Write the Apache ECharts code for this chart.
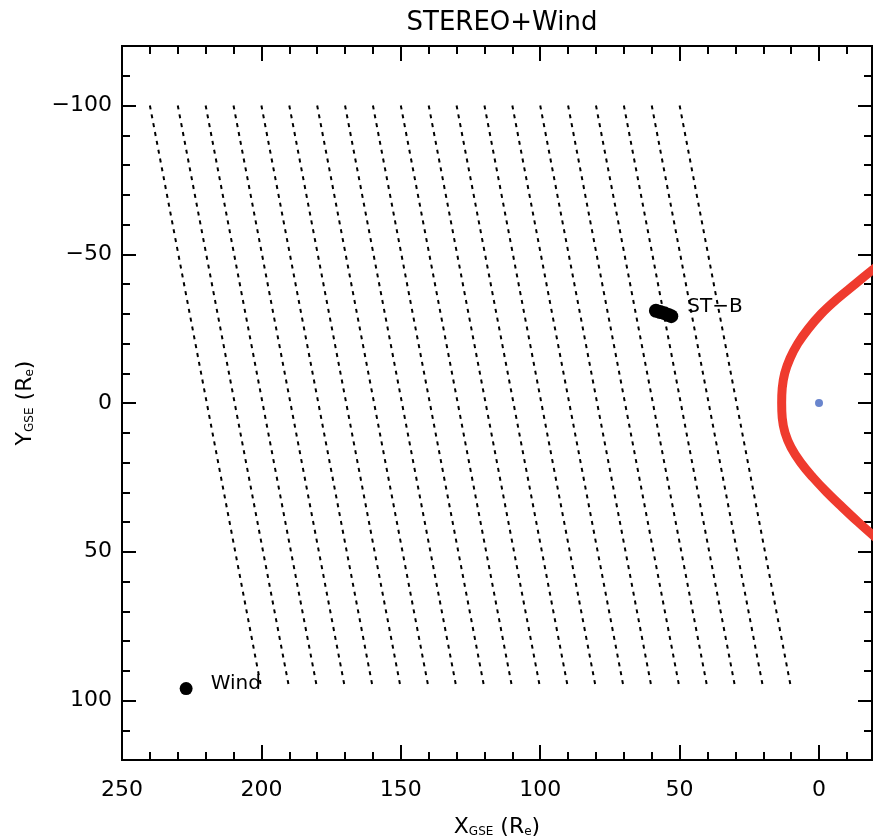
<!DOCTYPE html>
<html>
<head>
<meta charset="utf-8">
<script src="https://cdn.jsdelivr.net/npm/echarts@6/dist/echarts.min.js"></script>
<style>html,body{margin:0;padding:0;background:#fff}#c{width:873px;height:838px}</style>
</head>
<body>
<div id="c"></div>
<script>
// ---- data ----
const titleText = 'STEREO+Wind';
const xRange = [-19, 250];
const yRange = [-120, 120];
const xMajorTicks = [250, 200, 150, 100, 50, 0];
const xMinorTicks = [250, 240, 230, 220, 210, 200, 190, 180, 170, 160, 150, 140, 130, 120, 110, 100, 90, 80, 70, 60, 50, 40, 30, 20, 10, 0, -10];
const yMajorTicks = [-100, -50, 0, 50, 100];
const yMinorTicks = [-110, -100, -90, -80, -70, -60, -50, -40, -30, -20, -10, 0, 10, 20, 30, 40, 50, 60, 70, 80, 90, 100, 110];

// dashed field lines: start (top) and end (bottom) x for each line
const fieldTopX = [240, 230, 220, 210, 200, 190, 180, 170, 160, 150, 140, 130, 120, 110, 100, 90, 80, 70, 60, 50];
const fieldBottomX = [200, 190, 180, 170, 160, 150, 140, 130, 120, 110, 100, 90, 80, 70, 60, 50, 40, 30, 20, 10];
const fieldTopY = -100;
const fieldBottomY = 96;

// bow shock curve (red)
const shockY = [-50, -45, -40, -35, -30, -25, -20, -15, -10, -5, 0, 5, 10, 15, 20, 25, 30, 35, 40, 45, 50];
const shockX = [-26, -19.5, -13, -6.5, -0.8, 3.8, 7.6, 10.4, 12.3, 13.2, 13.4, 13.2, 12.2, 10, 6.6, 2.2, -2.8, -8.3, -14, -20, -26];

// spacecraft
const earthPos = [[0, 0]];
const stbX = [58.5, 57, 55.5, 54, 53];
const stbY = [-31, -30.6, -30.2, -29.6, -29.2];
const windPos = [[227, 96]];

// ---- chart ----
const FONT = 'DejaVu Sans';
const black = '#000';
function xAx(pos, ticks, len, labels) {
  return {
    type: 'value', position: pos, min: xRange[0], max: xRange[1], inverse: true,
    axisLine: { show: true, onZero: false, lineStyle: { color: black, width: 2 } },
    axisTick: { show: true, inside: true, length: len, customValues: ticks, lineStyle: { color: black, width: 2 } },
    axisLabel: { show: labels, customValues: xMajorTicks, color: black, fontSize: 22, fontFamily: FONT, margin: 19 },
    splitLine: { show: false }
  };
}
function yAx(pos, ticks, len, labels) {
  return {
    type: 'value', position: pos, min: yRange[0], max: yRange[1], inverse: true,
    axisLine: { show: true, onZero: false, lineStyle: { color: black, width: 2 } },
    axisTick: { show: true, inside: true, length: len, customValues: ticks, lineStyle: { color: black, width: 2 } },
    axisLabel: { show: labels, customValues: yMajorTicks, color: black, fontSize: 22, fontFamily: FONT, margin: 10,
      formatter: v => String(v).replace('-', '\u2212') },
    splitLine: { show: false }
  };
}
const xAxes = [xAx('bottom', xMajorTicks, 15, true), xAx('bottom', xMinorTicks, 8, false), xAx('top', xMajorTicks, 15, false), xAx('top', xMinorTicks, 8, false)];
const yAxes = [yAx('left', yMajorTicks, 14, true), yAx('left', yMinorTicks, 8, false), yAx('right', yMajorTicks, 14, false), yAx('right', yMinorTicks, 8, false)];

const nameStyle = { rich: {
  m: { fontSize: 22, fontFamily: FONT, color: black, lineHeight: 26, verticalAlign: 'bottom' },
  s: { fontSize: 12, fontFamily: FONT, color: black, verticalAlign: 'bottom', lineHeight: 20 } } };
xAxes[0].name = '{m|X}{s|GSE}{m| (R}{s|e}{m|)}';
xAxes[0].nameLocation = 'middle';
xAxes[0].nameGap = 52;
xAxes[0].nameTextStyle = nameStyle;
yAxes[0].name = '{m|Y}{s|GSE}{m| (R}{s|e}{m|)}';
yAxes[0].nameLocation = 'middle';
yAxes[0].nameRotate = 90;
yAxes[0].nameGap = 86;
yAxes[0].nameTextStyle = nameStyle;

const series = [];
fieldTopX.forEach((tx, i) => {
  series.push({
    type: 'line', silent: true, symbol: 'none', animation: false,
    data: [[tx, fieldTopY], [fieldBottomX[i], fieldBottomY]],
    lineStyle: { color: black, width: 2, type: [4, 5] }
  });
});
series.push({
  type: 'line', symbol: 'none', smooth: 0.4, animation: false, clip: true,
  data: shockY.map((y, i) => [shockX[i], y]),
  lineStyle: { color: '#ef3b2e', width: 9 }
});
series.push({
  type: 'scatter', data: earthPos, symbolSize: 8, itemStyle: { color: '#4466c0' }, animation: false
});
series.push({
  type: 'scatter', data: stbX.map((x, i) => [x, stbY[i]]), symbolSize: 14, itemStyle: { color: black, opacity: 1 }, animation: false,
  label: { show: true, position: 'right', distance: 9, offset: [0, -9], color: black, fontSize: 20, fontFamily: FONT,
    formatter: p => p.dataIndex === stbX.length - 1 ? 'ST\u2212B' : '' }
});
series.push({
  type: 'scatter', data: windPos, symbolSize: 13, itemStyle: { color: black, opacity: 1 }, animation: false,
  label: { show: true, position: 'right', distance: 18, offset: [0, -5], color: black, fontSize: 20, fontFamily: FONT, formatter: 'Wind' }
});

const chart = echarts.init(document.getElementById('c'), null, { renderer: 'canvas' });
chart.setOption({
  backgroundColor: '#fff',
  animation: false,
  title: { text: titleText, left: 497, top: 5, textAlign: 'center',
    textStyle: { fontSize: 26, fontWeight: 'normal', fontFamily: FONT, color: black } },
  grid: { left: 122, right: 1, top: 46, bottom: 78, outerBoundsMode: 'none' },
  xAxis: xAxes,
  yAxis: yAxes,
  series: series
});
</script>
</body>
</html>
